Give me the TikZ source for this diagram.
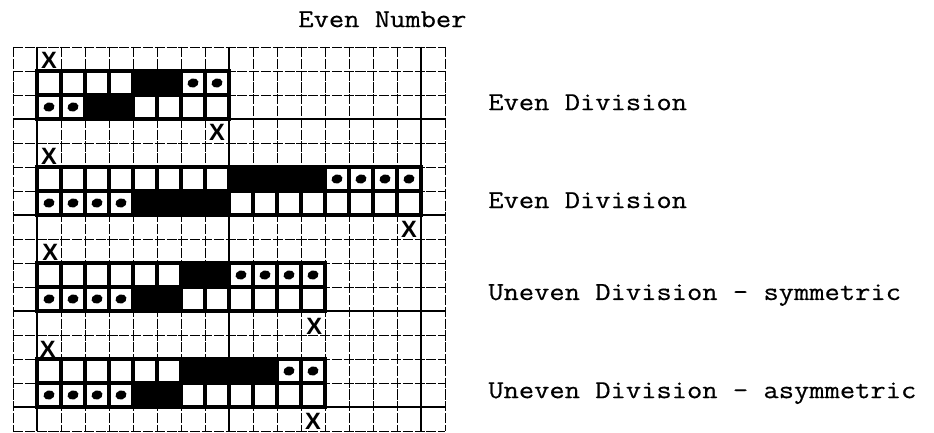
\documentclass[tikz,border=0pt]{standalone}
\usepackage{fontspec}
\newfontfamily\typew{Latin Modern Mono}[FakeStretch=1.15, FakeBold=0.5]
\setsansfont{Liberation Sans}

\begin{document}
\begin{tikzpicture}[x=0.5cm, y=0.5cm,
        minor/.style={line width=0.5pt, dash pattern=on 6pt off 1pt},
        major/.style={line width=1.3pt},
        cellbase/.style={draw, line width=2.4pt, minimum size=0.5cm, inner sep=0pt, outer sep=0pt},
        cw/.style={cellbase, fill=white},
        cb/.style={cellbase, fill=black},
        cd/.style={cellbase, fill=white, path picture={
            \fill[black] (path picture bounding box.center) circle [x radius=3.3pt, y radius=2.7pt, rotate=15];}},
        xm/.style={font=\sffamily\bfseries\fontsize{14}{14}\selectfont, inner sep=0pt},
        lbl/.style={font=\typew\fontsize{15.3}{18}\selectfont, anchor=base west, inner sep=0pt}
    ]
    \useasboundingbox (-1.5417,1.9583) rectangle (37.375,-16.083);

    % graph paper
    \foreach \i in {-1,...,17} \draw[minor] (\i,0) -- (\i,-16);
    \foreach \j in {0,...,16} \draw[minor] (-1,-\j) -- (17,-\j);
    \foreach \i in {0,8,16} \draw[major] (\i,0) -- (\i,-16);
    \foreach \j in {3,7,11,15} \draw[major] (-1,-\j) -- (17,-\j);

    % even division
    \foreach \t [count=\c from 0] in {w,w,w,w,b,b,d,d} \node[c\t] (a1-\c) at (\c+0.5,-1.5) {};
    \foreach \t [count=\c from 0] in {d,d,b,b,w,w,w,w} \node[c\t] (a2-\c) at (\c+0.5,-2.5) {};
    \node[xm] (xa1) at (0.5,-0.56) {X};
    \node[xm] (xa2) at (7.5,-3.55) {X};

    % even division, long
    \foreach \t [count=\c from 0] in {w,w,w,w,w,w,w,w,b,b,b,b,d,d,d,d} \node[c\t] (b1-\c) at (\c+0.5,-5.5) {};
    \foreach \t [count=\c from 0] in {d,d,d,d,b,b,b,b,w,w,w,w,w,w,w,w} \node[c\t] (b2-\c) at (\c+0.5,-6.5) {};
    \node[xm] (xb1) at (0.5,-4.56) {X};
    \node[xm] (xb2) at (15.5,-7.6) {X};

    % uneven, symmetric
    \foreach \t [count=\c from 0] in {w,w,w,w,w,w,b,b,d,d,d,d} \node[c\t] (c1-\c) at (\c+0.5,-9.5) {};
    \foreach \t [count=\c from 0] in {d,d,d,d,b,b,w,w,w,w,w,w} \node[c\t] (c2-\c) at (\c+0.5,-10.5) {};
    \node[xm] (xc1) at (0.55,-8.55) {X};
    \node[xm] (xc2) at (11.55,-11.62) {X};

    % uneven, asymmetric
    \foreach \t [count=\c from 0] in {w,w,w,w,w,w,b,b,b,b,d,d} \node[c\t] (d1-\c) at (\c+0.5,-13.5) {};
    \foreach \t [count=\c from 0] in {d,d,d,d,b,b,w,w,w,w,w,w} \node[c\t] (d2-\c) at (\c+0.5,-14.5) {};
    \node[xm] (xd1) at (0.45,-12.58) {X};
    \node[xm] (xd2) at (11.5,-15.6) {X};

    \node[lbl] (title) at (10.875,0.83) {Even Number};
    \node[lbl] (la) at (18.79,-2.63) {Even Division};
    \node[lbl] (lb) at (18.79,-6.71) {Even Division};
    \node[lbl] (lc) at (18.79,-10.54) {Uneven Division - symmetric};
    \node[lbl] (ld) at (18.79,-14.63) {Uneven Division - asymmetric};
\end{tikzpicture}
\end{document}
